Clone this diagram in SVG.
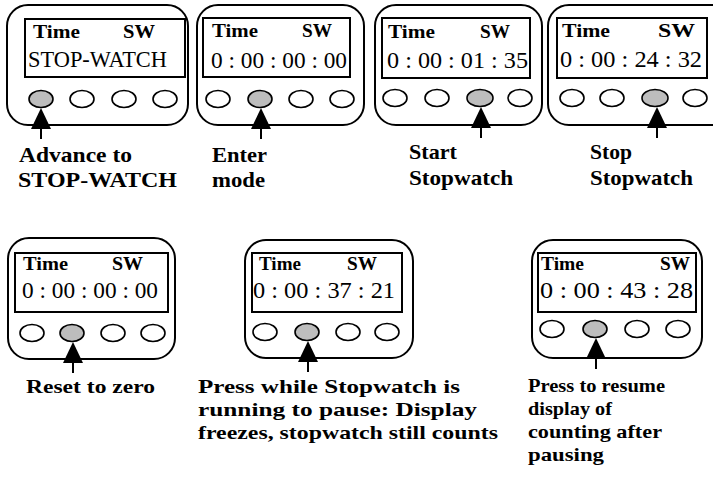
<svg xmlns="http://www.w3.org/2000/svg" xmlns:xlink="http://www.w3.org/1999/xlink" width="713" height="482" viewBox="0 0 713 482">
<style>
.case{fill:#fff;stroke:#000;stroke-width:2}
.scr{fill:#fff;stroke:#000;stroke-width:2}
.btn{fill:#fff;stroke:#000;stroke-width:1.6}
.on{fill:#bdbdbd;stroke:#000;stroke-width:1.6}
.hd{font-family:"Liberation Serif",serif;font-weight:bold;font-size:19px;fill:#000}
.dg{font-family:"Liberation Serif",serif;font-size:23px;fill:#000}
.lt{font-family:"Liberation Serif",serif;font-weight:bold;font-size:22px;fill:#000}
.lb{font-family:"Liberation Serif",serif;font-weight:bold;font-size:19px;fill:#000}
</style>
<defs>
<g id="ptr"><path d="M0,0 L-10,21 L10,21 Z" fill="#000"/><line x1="0" y1="20" x2="0" y2="31" stroke="#000" stroke-width="2"/></g>
</defs>
<rect width="713" height="482" fill="#fff"/>

<g id="watch1">
<rect class="case" x="7" y="5" width="181" height="120" rx="21"/>
<rect class="scr" x="25" y="19" width="160" height="58"/>
<text class="hd" x="33" y="38" textLength="47" lengthAdjust="spacingAndGlyphs">Time</text>
<text class="hd" x="123" y="38" textLength="32" lengthAdjust="spacingAndGlyphs">SW</text>
<text class="dg" x="28" y="67" textLength="139" lengthAdjust="spacingAndGlyphs">STOP-WATCH</text>
<ellipse class="on" cx="41" cy="99" rx="12" ry="8.5"/>
<ellipse class="btn" cx="82" cy="99" rx="12" ry="8.5"/>
<ellipse class="btn" cx="124" cy="99" rx="12" ry="8.5"/>
<ellipse class="btn" cx="165" cy="99" rx="12" ry="8.5"/>
<text class="lt" x="19" y="162" textLength="113" lengthAdjust="spacingAndGlyphs">Advance to</text>
<text class="lt" x="18" y="187" textLength="159" lengthAdjust="spacingAndGlyphs">STOP-WATCH</text>
</g>

<g id="watch2">
<rect class="case" x="197" y="5" width="167" height="120" rx="21"/>
<rect class="scr" x="203" y="18" width="147" height="59"/>
<text class="hd" x="212" y="37" textLength="46" lengthAdjust="spacingAndGlyphs">Time</text>
<text class="hd" x="302" y="37" textLength="30" lengthAdjust="spacingAndGlyphs">SW</text>
<text class="dg" x="211" y="68" textLength="136" lengthAdjust="spacingAndGlyphs">0 : 00 : 00 : 00</text>
<ellipse class="btn" cx="218" cy="99" rx="12" ry="8.5"/>
<ellipse class="on" cx="260" cy="99" rx="12" ry="8.5"/>
<ellipse class="btn" cx="301" cy="99" rx="12" ry="8.5"/>
<ellipse class="btn" cx="342" cy="99" rx="12" ry="8.5"/>
<text class="lt" x="212" y="162" textLength="55" lengthAdjust="spacingAndGlyphs">Enter</text>
<text class="lt" x="212" y="187" textLength="53" lengthAdjust="spacingAndGlyphs">mode</text>
</g>

<g id="watch3">
<rect class="case" x="375" y="5" width="167" height="120" rx="21"/>
<rect class="scr" x="382" y="18" width="148" height="60"/>
<text class="hd" x="388" y="38" textLength="47" lengthAdjust="spacingAndGlyphs">Time</text>
<text class="hd" x="480" y="38" textLength="30" lengthAdjust="spacingAndGlyphs">SW</text>
<text class="dg" x="387" y="68" textLength="141" lengthAdjust="spacingAndGlyphs">0 : 00 : 01 : 35</text>
<ellipse class="btn" cx="395" cy="98" rx="12" ry="8.5"/>
<ellipse class="btn" cx="437" cy="98" rx="12" ry="8.5"/>
<ellipse class="on" cx="480" cy="98" rx="13" ry="8.5"/>
<ellipse class="btn" cx="520" cy="98" rx="12" ry="8.5"/>
<text class="lt" x="409" y="159" textLength="48" lengthAdjust="spacingAndGlyphs">Start</text>
<text class="lt" x="409" y="185" textLength="104" lengthAdjust="spacingAndGlyphs">Stopwatch</text>
</g>

<g id="watch4">
<rect class="case" x="548" y="5" width="185" height="120" rx="21"/>
<rect class="scr" x="557" y="18" width="150" height="60"/>
<text class="hd" x="562" y="37" textLength="48" lengthAdjust="spacingAndGlyphs">Time</text>
<text class="hd" x="658" y="37" textLength="37" lengthAdjust="spacingAndGlyphs">SW</text>
<text class="dg" x="560" y="67" textLength="142" lengthAdjust="spacingAndGlyphs">0 : 00 : 24 : 32</text>
<ellipse class="btn" cx="572" cy="98" rx="12" ry="8.5"/>
<ellipse class="btn" cx="612" cy="98" rx="12" ry="8.5"/>
<ellipse class="on" cx="655" cy="98" rx="13" ry="8.5"/>
<ellipse class="btn" cx="695" cy="98" rx="12" ry="8.5"/>
<text class="lt" x="590" y="159" textLength="42" lengthAdjust="spacingAndGlyphs">Stop</text>
<text class="lt" x="590" y="185" textLength="103" lengthAdjust="spacingAndGlyphs">Stopwatch</text>
</g>

<g id="watch5">
<rect class="case" x="8" y="238" width="167" height="121" rx="21"/>
<rect class="scr" x="15" y="253" width="153" height="59"/>
<text class="hd" x="23" y="270" textLength="45" lengthAdjust="spacingAndGlyphs">Time</text>
<text class="hd" x="112" y="270" textLength="31" lengthAdjust="spacingAndGlyphs">SW</text>
<text class="dg" x="22" y="298" textLength="136" lengthAdjust="spacingAndGlyphs">0 : 00 : 00 : 00</text>
<ellipse class="btn" cx="32" cy="333" rx="12" ry="8.5"/>
<ellipse class="on" cx="72" cy="333" rx="12" ry="8.5"/>
<ellipse class="btn" cx="113" cy="333" rx="12" ry="8.5"/>
<ellipse class="btn" cx="153" cy="333" rx="12" ry="8.5"/>
<text class="lb" x="26" y="393" textLength="129" lengthAdjust="spacingAndGlyphs">Reset to zero</text>
</g>

<g id="watch6">
<rect class="case" x="245" y="240" width="168" height="118" rx="21"/>
<rect class="scr" x="252" y="253" width="150" height="59"/>
<text class="hd" x="259" y="270" textLength="42" lengthAdjust="spacingAndGlyphs">Time</text>
<text class="hd" x="347" y="270" textLength="30" lengthAdjust="spacingAndGlyphs">SW</text>
<text class="dg" x="253" y="298" textLength="142" lengthAdjust="spacingAndGlyphs">0 : 00 : 37 : 21</text>
<ellipse class="btn" cx="265" cy="332" rx="12" ry="8.5"/>
<ellipse class="on" cx="307" cy="332" rx="12" ry="8.5"/>
<ellipse class="btn" cx="348" cy="332" rx="12" ry="8.5"/>
<ellipse class="btn" cx="387" cy="332" rx="12" ry="8.5"/>
<text class="lb" x="198" y="393" textLength="262" lengthAdjust="spacingAndGlyphs">Press while Stopwatch is</text>
<text class="lb" x="198" y="416" textLength="279" lengthAdjust="spacingAndGlyphs">running to pause: Display</text>
<text class="lb" x="198" y="439" textLength="300" lengthAdjust="spacingAndGlyphs">freezes, stopwatch still counts</text>
</g>

<g id="watch7">
<rect class="case" x="532" y="240" width="170" height="118" rx="21"/>
<rect class="scr" x="538" y="253" width="158" height="59"/>
<text class="hd" x="541" y="270" textLength="43" lengthAdjust="spacingAndGlyphs">Time</text>
<text class="hd" x="660" y="270" textLength="30" lengthAdjust="spacingAndGlyphs">SW</text>
<text class="dg" x="540" y="298" textLength="153" lengthAdjust="spacingAndGlyphs">0 : 00 : 43 : 28</text>
<ellipse class="btn" cx="552" cy="329" rx="12" ry="8.5"/>
<ellipse class="on" cx="595" cy="329" rx="12" ry="8.5"/>
<ellipse class="btn" cx="637" cy="329" rx="12" ry="8.5"/>
<ellipse class="btn" cx="678" cy="329" rx="12" ry="8.5"/>
<text class="lb" x="528" y="392" textLength="137" lengthAdjust="spacingAndGlyphs">Press to resume</text>
<text class="lb" x="528" y="415" textLength="84" lengthAdjust="spacingAndGlyphs">display of</text>
<text class="lb" x="528" y="438" textLength="134" lengthAdjust="spacingAndGlyphs">counting after</text>
<text class="lb" x="528" y="461" textLength="76" lengthAdjust="spacingAndGlyphs">pausing</text>
</g>

<g id="connectors">
<use xlink:href="#ptr" x="41" y="108"/>
<use xlink:href="#ptr" x="261" y="108"/>
<use xlink:href="#ptr" x="481" y="107"/>
<use xlink:href="#ptr" x="657" y="107"/>
<use xlink:href="#ptr" x="73" y="342"/>
<use xlink:href="#ptr" x="308" y="341"/>
<use xlink:href="#ptr" x="596" y="338"/>
</g>
</svg>
